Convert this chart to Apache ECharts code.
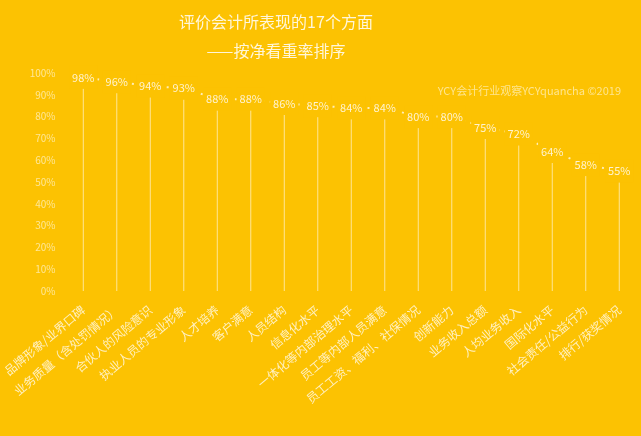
<!DOCTYPE html>
<html>
<head>
<meta charset="utf-8">
<script src="https://cdn.jsdelivr.net/npm/echarts@6/dist/echarts.min.js"></script>
<style>
html,body{margin:0;padding:0;background:#FCC202;}
#main{width:641px;height:436px;}
</style>
</head>
<body>
<div id="main"></div>
<script>
var categories = ['品牌形象/业界口碑','业务质量（含处罚情况）','合伙人的风险意识','执业人员的专业形象','人才培养','客户满意','人员结构','信息化水平','一体化等内部治理水平','员工等内部人员满意','员工工资、福利、社保情况','创新能力','业务收入总额','人均业务收入','国际化水平','社会责任/公益行为','排行/获奖情况'];
var values = [98,96,94,93,88,88,86,85,84,84,80,80,75,72,64,58,55];
var yTicks = [0,10,20,30,40,50,60,70,80,90,100];

var bg = '#FCC202';
var chart = echarts.init(document.getElementById('main'));
chart.setOption({
  backgroundColor: bg,
  animation: false,
  textStyle: {fontFamily: '"Noto Sans CJK SC", "Noto Sans", sans-serif'},
  title: [{
    text: '评价会计所表现的17个方面',
    left: 271, top: 9, textAlign: 'center',
    textStyle: {color: '#FFF6DA', fontSize: 16, fontWeight: 'normal'}
  },{
    text: '——按净看重率排序',
    left: 271, top: 38, textAlign: 'center',
    textStyle: {color: '#FFF6DA', fontSize: 16, fontWeight: 'normal'}
  },{
    text: 'YCY会计行业观察YCYquancha ©2019',
    right: 15, top: 80,
    textStyle: {color: 'rgba(255,240,190,0.75)', fontSize: 11, fontWeight: 'normal'}
  }],
  grid: {left: 66, right: 5, top: 73, bottom: 145},
  xAxis: {
    type: 'category',
    data: categories,
    axisLine: {show: false},
    axisTick: {show: false},
    axisLabel: {rotate: 40, color: '#FFF0C0', fontSize: 12, margin: 17, interval: 0}
  },
  yAxis: {
    type: 'value',
    min: 0, max: 100, interval: 10,
    splitLine: {show: false},
    axisLine: {show: false},
    axisTick: {show: false},
    axisLabel: {color: 'rgba(255,240,190,0.8)', fontSize: 10, margin: 11,
      formatter: function(v){ return yTicks.indexOf(v) >= 0 ? v + '%' : ''; }}
  },
  series: [{
    type: 'bar',
    data: values,
    barWidth: 1,
    itemStyle: {color: 'rgba(255,245,215,0.7)'},
    z: 1
  },{
    type: 'line',
    data: values,
    symbol: 'circle',
    symbolSize: 1,
    showSymbol: true,
    itemStyle: {color: 'rgba(0,0,0,0)'},
    lineStyle: {color: 'rgba(255,245,215,0.85)', width: 2, type: [2, 5]},
    z: 2,
    label: {
      show: true,
      position: 'inside',
      formatter: '{c}%',
      color: '#FFF3CF',
      fontSize: 11,
      backgroundColor: bg,
      padding: [2, 3, 10, 3]
    }
  }]
});
</script>
</body>
</html>
